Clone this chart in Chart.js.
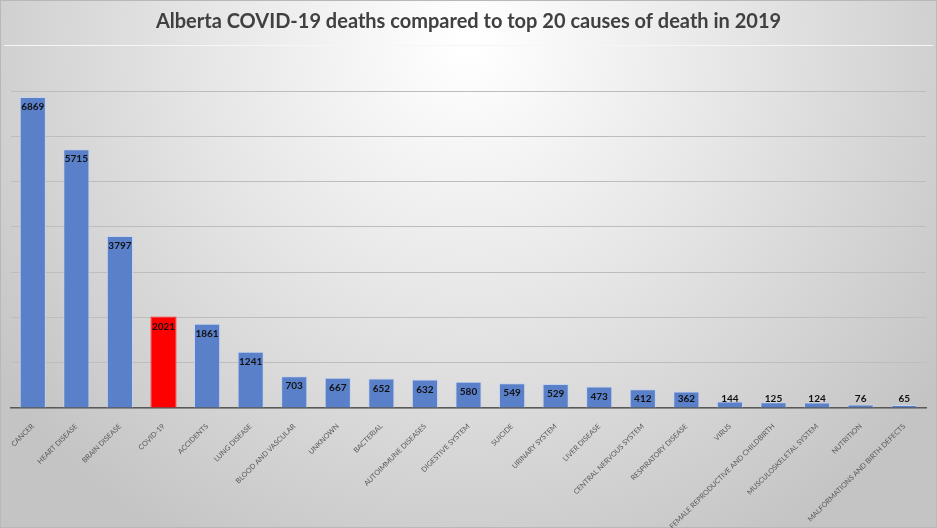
<!DOCTYPE html>
<html>
<head>
<meta charset="utf-8">
<script src="https://cdn.jsdelivr.net/npm/chart.js@4"></script>
<style>
  html, body { margin: 0; padding: 0; background: #fff; }
  #wrap { width: 937px; height: 528px; }
</style>
</head>
<body>
<div id="wrap"><canvas id="deathsChart" width="937" height="528"></canvas></div>
<script>
// カテゴリ（死因）
const causes = [
    'CANCER', 'HEART DISEASE', 'BRAIN DISEASE', 'COVID-19', 'ACCIDENTS',
    'LUNG DISEASE', 'BLOOD AND VASCULAR', 'UNKNOWN', 'BACTERIAL', 'AUTOIMMUNE DISEASES',
    'DIGESTIVE SYSTEM', 'SUICIDE', 'URINARY SYSTEM', 'LIVER DISEASE', 'CENTRAL NERVOUS SYSTEM',
    'RESPIRATORY DISEASE', 'VIRUS', 'FEMALE REPRODUCTIVE AND CHILDBIRTH', 'MUSCULOSKELETAL SYSTEM', 'NUTRITION',
    'MALFORMATIONS AND BIRTH DEFECTS'
];

// 死亡者数
const deaths = [6869, 5715, 3797, 2021, 1861, 1241, 703, 667, 652, 632, 580, 549, 529, 473, 412, 362, 144, 125, 124, 76, 65];

// 強調するカテゴリ
const highlight = 'COVID-19';

const blue = '#5a80c9';
const red = '#ff0000';

//背景（グラデーション）
const bgPlugin = {
    id: 'bg',
    beforeDraw(chart) {
        const c = chart.ctx;
        const w = chart.width, h = chart.height;
        c.save();
        const g = c.createRadialGradient(w * 0.5, h * 0.08, 10, w * 0.5, h * 0.08, w * 0.62);
        g.addColorStop(0, '#ffffff');
        g.addColorStop(0.45, '#e6e6e6');
        g.addColorStop(1, '#c4c4c4');
        c.fillStyle = g;
        c.fillRect(0, 0, w, h);
        c.strokeStyle = '#f6f6f6';
        c.lineWidth = 1;
        c.beginPath();
        c.moveTo(4, 45.5);
        c.lineTo(w - 4, 45.5);
        c.stroke();
        c.strokeStyle = '#b8b8b8';
        c.strokeRect(0.5, 0.5, w - 1, h - 1);
        c.restore();
    }
};

//データラベル
const labelPlugin = {
    id: 'barLabels',
    afterDatasetsDraw(chart) {
        const c = chart.ctx;
        const meta = chart.getDatasetMeta(0);
        const base = chart.scales.y.getPixelForValue(0);
        c.save();
        c.font = 'bold 10px Lato';
        c.fillStyle = '#111';
        c.textAlign = 'center';
        c.textBaseline = 'middle';
        meta.data.forEach((bar, i) => {
            const y = Math.min(bar.y + 10, base - 9);
            c.fillText(String(deaths[i]), bar.x, y);
        });
        c.restore();
    }
};

const ctx = document.getElementById('deathsChart').getContext('2d');
const deathsChart = new Chart(ctx, {
    type: 'bar',
    data: {
        labels: causes,
        datasets: [{
            data: deaths,
            backgroundColor: causes.map(c => c === highlight ? red : blue),
            borderColor: causes.map(c => c === highlight ? '#ff3030' : '#c5d3ee'),
            borderWidth: 1,
            barPercentage: 0.6,
            categoryPercentage: 1.0,
        }]
    },
    options: {
        responsive: false,
        animation: false,
        layout: {
            padding: { left: 11, right: 11, top: 0, bottom: 0 }
        },
        plugins: {
            legend: { display: false },
            tooltip: { enabled: false },
            title: {
                display: true,
                text: 'Alberta COVID-19 deaths compared to top 20 causes of death in 2019',
                color: '#404040',
                font: { family: 'Lato', size: 20, weight: 'bold', lineHeight: 1.2 },
                padding: { top: 10, bottom: 57 }
            }
        },
        scales: {
            x: {
                grid: { display: false },
                border: { color: '#595959', width: 1.5 },
                afterFit: s => { s.height = 120; },
                ticks: {
                    autoSkip: false,
                    minRotation: 45,
                    maxRotation: 45,
                    color: '#595959',
                    padding: 6,
                    font: { family: 'Lato', size: 7.2 }
                }
            },
            y: {
                min: 0,
                max: 7000,
                ticks: { display: false, stepSize: 1000 },
                grid: { color: '#bdbdbd', drawTicks: false },
                border: { display: false }
            }
        }
    },
    plugins: [bgPlugin, labelPlugin]
});
</script>
</body>
</html>
